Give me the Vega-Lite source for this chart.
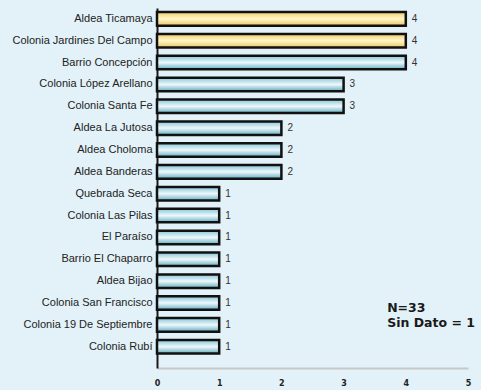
{
  "$schema": "https://vega.github.io/schema/vega-lite/v6.json",
  "width": 311,
  "height": 360,
  "autosize": "none",
  "padding": {"left": 157, "top": 8, "right": 13, "bottom": 22},
  "background": "#e3f2f8",
  "config": {"view": {"stroke": null}},
  "data": {
    "values": [
      {"lugar": "Aldea Ticamaya", "casos": 4, "grupo": "max"},
      {"lugar": "Colonia Jardines Del Campo", "casos": 4, "grupo": "max"},
      {"lugar": "Barrio Concepción", "casos": 4, "grupo": "otro"},
      {"lugar": "Colonia López Arellano", "casos": 3, "grupo": "otro"},
      {"lugar": "Colonia Santa Fe", "casos": 3, "grupo": "otro"},
      {"lugar": "Aldea La Jutosa", "casos": 2, "grupo": "otro"},
      {"lugar": "Aldea Choloma", "casos": 2, "grupo": "otro"},
      {"lugar": "Aldea Banderas", "casos": 2, "grupo": "otro"},
      {"lugar": "Quebrada Seca", "casos": 1, "grupo": "otro"},
      {"lugar": "Colonia Las Pilas", "casos": 1, "grupo": "otro"},
      {"lugar": "El Paraíso", "casos": 1, "grupo": "otro"},
      {"lugar": "Barrio El Chaparro", "casos": 1, "grupo": "otro"},
      {"lugar": "Aldea Bijao", "casos": 1, "grupo": "otro"},
      {"lugar": "Colonia San Francisco", "casos": 1, "grupo": "otro"},
      {"lugar": "Colonia 19 De Septiembre", "casos": 1, "grupo": "otro"},
      {"lugar": "Colonia Rubí", "casos": 1, "grupo": "otro"}
    ]
  },
  "encoding": {
    "y": {
      "field": "lugar",
      "type": "nominal",
      "sort": null,
      "scale": {"paddingInner": 0.38, "paddingOuter": 0.425, "align": 0.22},
      "axis": {
        "title": null,
        "domainColor": "#1a1a1a",
        "domainWidth": 2,
        "ticks": false,
        "labelPadding": 5,
        "labelFont": "Liberation Sans",
        "labelFontSize": 11,
        "labelColor": "#222222",
        "labelLimit": 200
      }
    }
  },
  "layer": [
    {
      "mark": {
        "type": "bar",
        "stroke": "#111111",
        "strokeWidth": 2.5
      },
      "encoding": {
        "x": {
          "field": "casos",
          "type": "quantitative",
          "scale": {"domain": [0, 5]},
          "axis": {
            "title": null,
            "values": [0, 1, 2, 3, 4, 5],
            "format": "d",
            "grid": false,
            "ticks": false,
            "domainColor": "#c8c8c8",
            "domainWidth": 2,
            "labelPadding": 11,
            "labelFont": "DejaVu Sans",
            "labelFontWeight": "bold",
            "labelFontSize": 8,
            "labelColor": "#222222",
            "labelFlush": false
          }
        },
        "fill": {
          "condition": {
            "test": "datum.grupo === 'max'",
            "value": {
              "gradient": "linear", "x1": 0, "y1": 0, "x2": 0, "y2": 1,
              "stops": [
                {"offset": 0, "color": "#efcf70"},
                {"offset": 0.5, "color": "#fff6c8"},
                {"offset": 1, "color": "#ecc860"}
              ]
            }
          },
          "value": {
            "gradient": "linear", "x1": 0, "y1": 0, "x2": 0, "y2": 1,
            "stops": [
              {"offset": 0, "color": "#86c6d6"},
              {"offset": 0.5, "color": "#eef8fb"},
              {"offset": 1, "color": "#62adc2"}
            ]
          }
        }
      }
    },
    {
      "mark": {
        "type": "text",
        "align": "left",
        "baseline": "middle",
        "dx": 6,
        "font": "Liberation Sans",
        "fontSize": 10,
        "color": "#333333"
      },
      "encoding": {
        "x": {"field": "casos", "type": "quantitative"},
        "text": {"field": "casos", "type": "quantitative"}
      }
    },
    {
      "data": {"values": [{"nota": "N=33\nSin Dato = 1", "xpos": 3.7, "fila": "Colonia San Francisco"}]},
      "mark": {
        "type": "text",
        "align": "left",
        "baseline": "middle",
        "lineBreak": "\n",
        "lineHeight": 15,
        "dy": 5,
        "font": "DejaVu Sans",
        "fontWeight": "bold",
        "fontSize": 12.5,
        "color": "#1a1a1a"
      },
      "encoding": {
        "x": {"field": "xpos", "type": "quantitative"},
        "y": {"field": "fila", "type": "nominal"},
        "text": {"field": "nota"}
      }
    }
  ]
}
